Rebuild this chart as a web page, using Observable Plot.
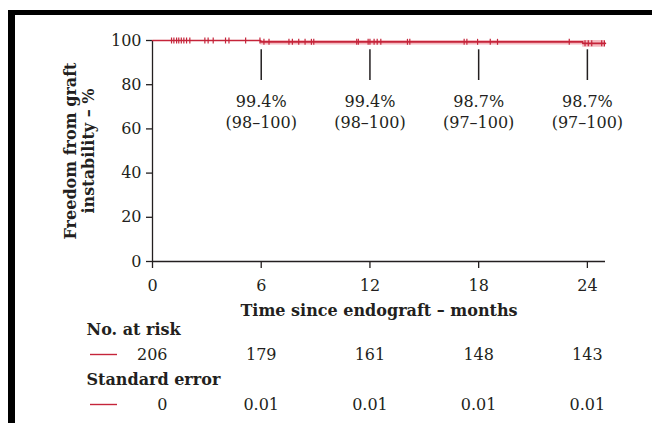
<!DOCTYPE html>
<html>
<head>
<meta charset="utf-8">
<script src="https://cdn.jsdelivr.net/npm/d3@7"></script>
<script src="https://cdn.jsdelivr.net/npm/@observablehq/plot@0.6"></script>
<style>
  html, body { margin: 0; padding: 0; background: #fff; }
  #wrap { position: relative; width: 652px; height: 423px; overflow: hidden; }
  #wrap svg { display: block; }
  .bar { position: absolute; background: #000; }
</style>
</head>
<body>
<div id="wrap">
  <div class="bar" style="left:8px; top:10px; width:644px; height:5px;"></div>
  <div class="bar" style="left:8px; top:10px; width:7px; height:413px;"></div>
</div>
<script>
// ---- data ----
const xTicks = [0, 6, 12, 18, 24];
const yTicks = [0, 20, 40, 60, 80, 100];
// Kaplan–Meier step curve (months, % free from graft instability)
const kmTime = [0, 5.97, 23.74, 25];
const kmSurv = [100, 99.4, 98.7, 98.7];
const kmLower = [100, 98, 97, 97];
const kmUpper = [100, 100, 100, 100];
// censoring times (months)
const censorTimes = [1.05, 1.18, 1.33, 1.45, 1.59, 1.73, 1.88, 2.06, 2.89, 3.07, 3.35,
  4.03, 4.22, 5.14, 5.93, 6.15, 6.43, 7.53, 7.72, 8.07, 8.42, 8.77, 8.9,
  11.27, 11.36, 11.9, 12.0, 12.23, 12.4, 12.6, 14.07, 14.2,
  17.2, 17.35, 17.94, 18.64, 19.04, 23.0, 23.87, 24.05, 24.24, 24.79, 24.94];
// annotations
const annoTimes = [6, 12, 18, 24];
const annoEst = ["99.4%", "99.4%", "98.7%", "98.7%"];
const annoCI = ["(98–100)", "(98–100)", "(97–100)", "(97–100)"];
// risk table
const riskTimes = [0, 6, 12, 18, 24];
const atRisk = ["206", "179", "161", "148", "143"];
const stdErr = ["0", "0.01", "0.01", "0.01", "0.01"];
const rowKeys = ["h1", "risk", "h2", "se"];
const rowTitles = {h1: "No. at risk", h2: "Standard error"};

// ---- styling ----
const RED = "#c5243a";
const BAND = "#f2aeb6";
const INK = "#231f20";
const FONT = "'DejaVu Serif', serif";
const FS = 16;

const survAt = t => { let s = kmSurv[0]; for (let i = 0; i < kmTime.length; i++) if (kmTime[i] <= t) s = kmSurv[i]; return s; };
const km = kmTime.map((t, i) => ({t, s: kmSurv[i], lo: kmLower[i], hi: kmUpper[i]}));
const censor = censorTimes.map(t => ({t, s: survAt(t)}));
const anno = annoTimes.map((t, i) => ({t, label: annoEst[i] + "\n" + annoCI[i]}));

const vtick = { draw(ctx, size) { const r = Math.sqrt(size / Math.PI); ctx.moveTo(0, -r); ctx.lineTo(0, r); } };
const hline = { draw(ctx, size) { const r = Math.sqrt(size / Math.PI); ctx.moveTo(-r, 0); ctx.lineTo(r, 0); } };

const common = {
  width: 652,
  marginLeft: 152,
  marginRight: 47,
  style: {fontFamily: FONT, fontSize: FS + "px", color: INK, background: "transparent", overflow: "visible"}
};

const chart = Plot.plot({
  ...common,
  height: 318,
  marginTop: 40,
  marginBottom: 57,
  x: {domain: [0, 25]},
  y: {domain: [0, 100]},
  marks: [
    Plot.areaY(km, {x: "t", y1: "lo", y2: "hi", curve: "step-after", fill: BAND, fillOpacity: 0.85}),
    Plot.ruleY([0], {stroke: INK, strokeWidth: 1.3}),
    Plot.ruleX([0], {stroke: INK, strokeWidth: 1.3}),
    Plot.axisX({ticks: xTicks, tickSize: 7, tickPadding: 11, label: null, strokeWidth: 1.3, fontSize: FS}),
    Plot.axisY({ticks: yTicks, tickSize: 6, tickPadding: 5, label: null, strokeWidth: 1.3, fontSize: FS}),
    Plot.line(km, {x: "t", y: "s", curve: "step-after", stroke: RED, strokeWidth: 1.6}),
    Plot.dot(censor, {x: "t", y: "s", symbol: vtick, r: 3, stroke: RED, strokeWidth: 1.2}),
    Plot.ruleX(anno, {x: "t", y1: 95.8, y2: 81.9, stroke: INK, strokeWidth: 1.5}),
    Plot.text(anno, {x: "t", y: 68, text: "label", lineHeight: 1.3, fill: INK, fontSize: FS}),
    Plot.text(["Time since endograft – months"], {frameAnchor: "bottom", dy: 54, fontWeight: "bold", fill: INK, fontSize: FS}),
    Plot.text(["Freedom from graft\ninstability – %"], {frameAnchor: "left", dx: -73, rotate: -90, textAnchor: "middle", lineHeight: 1.12, fontWeight: "bold", fill: INK, fontSize: FS})
  ]
});

const rows = [
  ...riskTimes.map((t, i) => ({row: "risk", t, v: atRisk[i], i})),
  ...riskTimes.map((t, i) => ({row: "se", t, v: stdErr[i], i}))
];

const table = Plot.plot({
  ...common,
  height: 105,
  marginTop: 10,
  marginBottom: 18,
  x: {domain: [0, 25], axis: null},
  y: {domain: rowKeys, type: "point", padding: 0, axis: null},
  marks: [
    Plot.text(["h1", "h2"], {y: d => d, text: d => rowTitles[d], frameAnchor: "left", dx: -66, textAnchor: "start", fontWeight: "bold", fill: INK, fontSize: FS}),
    Plot.dot(["risk", "se"], {y: d => d, frameAnchor: "left", dx: -49, symbol: hline, r: 13.5, stroke: RED, strokeWidth: 1.4}),
    Plot.text(rows.filter(d => d.i === 0), {x: "t", y: "row", text: "v", textAnchor: "end", dx: 15, fill: INK, fontSize: FS}),
    Plot.text(rows.filter(d => d.i > 0), {x: "t", y: "row", text: "v", fill: INK, fontSize: FS})
  ]
});

const wrap = document.getElementById("wrap");
wrap.insertBefore(table, wrap.firstChild);
wrap.insertBefore(chart, wrap.firstChild);
</script>
</body>
</html>
